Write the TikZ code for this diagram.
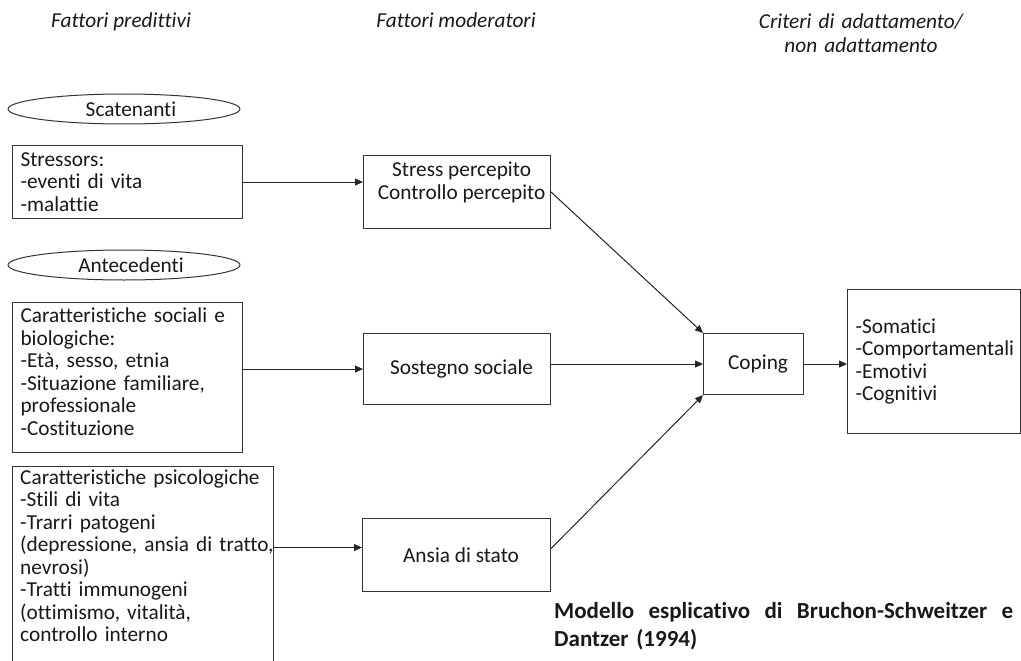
\documentclass[tikz,border=0pt]{standalone}
\usepackage{fontspec}
\setmainfont{Carlito}[Ligatures=NoCommon]
\usetikzlibrary{arrows.meta,shapes.geometric}
\newcommand\bodysize{\fontsize{21.3}{22.5}\selectfont}
\newcommand\padl{\hspace*{9pt}}
\begin{document}
\begin{tikzpicture}[x=1pt,y=-1pt,
  every node/.style={font=\bodysize, text=black!90},
  box/.style={draw=black!80, line width=1.1pt, rectangle, inner sep=0pt},
  listbox/.style={box, anchor=north west, align=left, inner xsep=8pt, inner ysep=0pt},
  oval/.style={draw=black!80, line width=1pt, ellipse, minimum width=232pt, minimum height=30pt, inner sep=0pt},
  head/.style={font=\fontsize{21.3}{24}\selectfont\itshape, anchor=base},
  arr/.style={-{Triangle[length=8pt,width=7pt]}, line width=1pt, draw=black!85}
]
\useasboundingbox (0,0) rectangle (1021,661);
\fill[white] (0,0) rectangle (1021,661);

% column headings
\node[head] (hpred) at (121,28) {Fattori predittivi};
\node[head] (hmod) at (456,28) {Fattori moderatori};
\node[head, text width=280pt, align=center] (hcrit) at (861,29) {Criteri di adattamento/\\non adattamento};

% group labels
\node[oval] (scat) at (124,109) {};
\node (scatlab) at ([xshift=7pt]scat.center) {Scatenanti};
\node[oval] (ante) at (124,265) {};
\node (antelab) at ([xshift=7pt]ante.center) {Antecedenti};

% predictors
\node[listbox, minimum width=230pt, minimum height=73pt, text width=214pt] (stressors) at (12,145)
  {Stressors:\\-eventi di vita\\-malattie};
\node[listbox, minimum width=230pt, minimum height=150pt, text width=214pt] (sociali) at (12,302)
  {Caratteristiche sociali e\\biologiche:\\-Età, sesso, etnia\\-Situazione familiare,\\professionale\\-Costituzione\\[-11pt]\mbox{}};
\node[box, anchor=north west, minimum width=261pt, minimum height=220pt] (psy) at (12,466) {};
\node[anchor=north west, align=left, text width=260pt, inner xsep=8pt, inner ysep=3.5pt] (psytext) at (psy.north west)
  {Caratteristiche psicologiche\\-Stili di vita\\-Trarri patogeni\\(depressione, ansia di tratto,\\nevrosi)\\-Tratti immunogeni\\(ottimismo, vitalità,\\controllo interno};

% moderators
\node[box, anchor=north west, minimum width=187pt, minimum height=73pt, align=center] (stress) at (363,155)
  {\padl Stress percepito\\\padl Controllo percepito\\\mbox{}};
\node[box, anchor=north west, minimum width=187pt, minimum height=71pt] (sostegno) at (363,333) {\padl Sostegno sociale};
\node[box, anchor=north west, minimum width=188pt, minimum height=73pt] (ansia) at (362,518) {\padl Ansia di stato};

% coping and outcomes
\node[box, anchor=north west, minimum width=100pt, minimum height=61pt] (coping) at (703,333) {\padl Coping};
\node[listbox, minimum width=173pt, minimum height=144pt, text width=157pt] (criteri) at (847,289)
  {\mbox{-Somatici}\\\mbox{-Comportamentali}\\\mbox{-Emotivi}\\\mbox{-Cognitivi}};

% caption, first line justified to full width
\node[anchor=base west, align=left, inner sep=0pt, text width=470pt,
      font=\fontsize{23}{28}\selectfont\bfseries] (caption) at (554,618)
  {\hbox to 459pt{Modello \hfill esplicativo \hfill di \hfill Bruchon-Schweitzer \hfill e}\\Dantzer (1994)};

% connectors
\draw[arr] (stressors.east) -- (stressors.east -| stress.west);
\draw[arr] (sostegno.west -| sociali.east) -- (sostegno.west);
\coordinate (ansiain) at ([yshift=7.5pt]ansia.west);
\draw[arr] (ansiain -| psy.east) -- (ansiain);
\draw[arr] (stress.east) -- (coping.north west);
\draw[arr] (coping.west -| sostegno.east) -- (coping.west);
\coordinate (ansiaout) at ([yshift=6.5pt]ansia.east);
\draw[arr] (ansiaout) -- (coping.south west);
\draw[arr] (coping.east) -- (coping.east -| criteri.west);
\end{tikzpicture}
\end{document}
